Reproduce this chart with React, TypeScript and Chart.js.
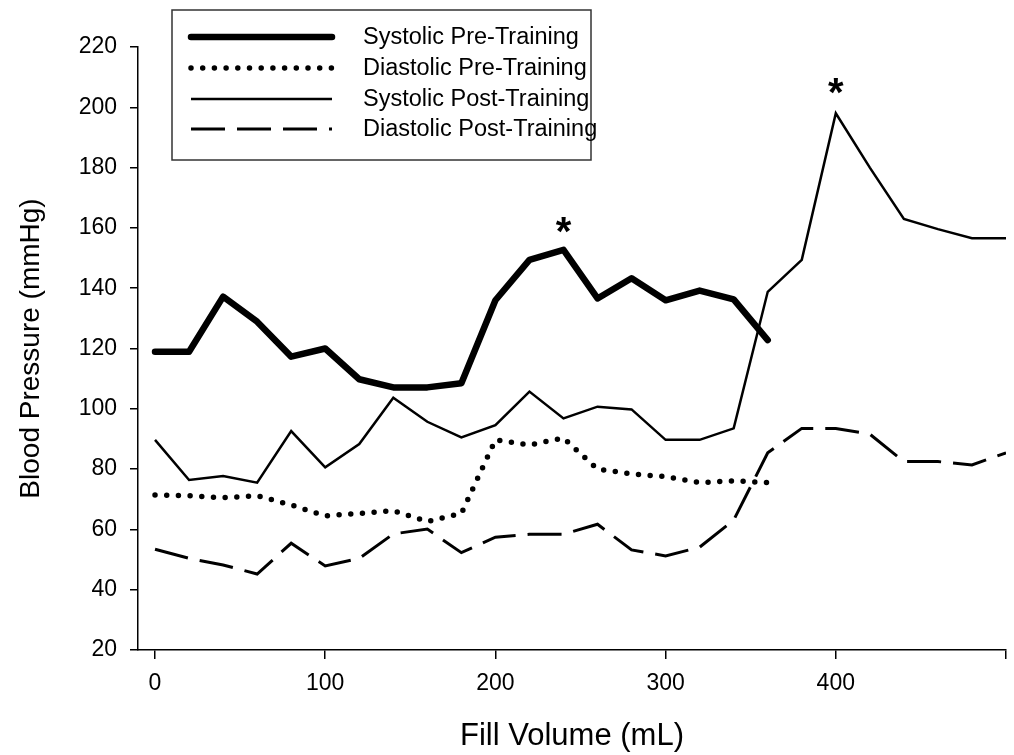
import React, { useEffect, useRef } from "react";
import { Chart, registerables } from "chart.js";

Chart.register(...registerables);

const fillVolume = [0, 20, 40, 60, 80, 100, 120, 140, 160, 180, 200, 220, 240, 260, 280, 300, 320, 340, 360, 380, 400, 420, 440, 460, 480, 500];
const systolicPre = [118.9, 118.9, 137.2, 128.9, 117.3, 120, 109.8, 107.1, 107.1, 108.5, 136, 149.4, 152.7, 136.6, 143.3, 136, 139.2, 136.3, 122.8];
const diastolicPre = [71.4, 71.2, 70.5, 71.2, 68.1, 64.5, 65.3, 66.2, 62.6, 65.3, 89.7, 88, 90.3, 80, 78.4, 77.5, 75.5, 76.1, 75.5];
const systolicPost = [89.7, 76.4, 77.7, 75.5, 92.6, 80.6, 88.3, 103.7, 95.7, 90.5, 94.6, 105.7, 96.8, 100.7, 99.8, 89.7, 89.7, 93.5, 138.8, 149.4, 198, 180, 163, 159.6, 156.6, 156.6];
const diastolicPost = [53.4, 50.4, 48.2, 45.2, 55.4, 47.9, 50.4, 58.5, 60.1, 52.3, 57.4, 58.4, 58.4, 61.7, 53.2, 51.2, 54.1, 63.1, 85.4, 93.5, 93.5, 91.6, 82.5, 82.5, 81.4, 85.4];

const seriesLabels = ["Systolic Pre-Training", "Diastolic Pre-Training", "Systolic Post-Training", "Diastolic Post-Training"];

const xTickValues = [0, 100, 200, 300, 400, 500];
const xTickLabels = ["0", "100", "200", "300", "400", ""];
const yTickValues = [20, 40, 60, 80, 100, 120, 140, 160, 180, 200, 220];

const asteriskX = [240, 400];
const asteriskY = [158, 204];

const FONT = "'Liberation Sans', Arial, sans-serif";

function toPoints(values: number[]) {
  return values.map((v, i) => ({ x: fillVolume[i], y: v }));
}

const overlayPlugin = {
  id: "overlay",
  afterDraw(chart: any) {
    const ctx = chart.ctx as CanvasRenderingContext2D;
    const xs = chart.scales.x;
    const ys = chart.scales.y;
    ctx.save();
    // asterisks
    ctx.fillStyle = "#000";
    ctx.font = `bold 40px ${FONT}`;
    ctx.textAlign = "center";
    ctx.textBaseline = "middle";
    asteriskX.forEach((v, i) => {
      ctx.fillText("*", xs.getPixelForValue(v), ys.getPixelForValue(asteriskY[i]));
    });
    // legend box
    const bx = 172, by = 10, bw = 419, bh = 150;
    ctx.fillStyle = "#fff";
    ctx.fillRect(bx, by, bw, bh);
    ctx.strokeStyle = "#333";
    ctx.lineWidth = 1.5;
    ctx.setLineDash([]);
    ctx.strokeRect(bx, by, bw, bh);
    const rows = [37, 68, 99, 129];
    chart.data.datasets.forEach((ds: any, i: number) => {
      const y = rows[i];
      ctx.save();
      ctx.strokeStyle = "#000";
      ctx.lineWidth = ds.borderWidth;
      ctx.setLineDash(ds.borderDash || []);
      ctx.lineCap = ds.borderCapStyle || "butt";
      ctx.beginPath();
      ctx.moveTo(191, y);
      ctx.lineTo(332, y);
      ctx.stroke();
      ctx.restore();
      ctx.fillStyle = "#000";
      ctx.font = `23.5px ${FONT}`;
      ctx.textAlign = "left";
      ctx.textBaseline = "middle";
      ctx.fillText(ds.label, 363, y + 1);
    });
    ctx.restore();
  },
};

export default function App() {
  const canvasRef = useRef<HTMLCanvasElement | null>(null);

  useEffect(() => {
    if (!canvasRef.current) return;
    const chart = new Chart(canvasRef.current, {
      type: "line",
      data: {
        datasets: [
          {
            label: seriesLabels[0],
            data: toPoints(systolicPre),
            borderColor: "#000",
            borderWidth: 6.5,
            borderJoinStyle: "round",
            borderCapStyle: "round",
            pointRadius: 0,
            tension: 0,
          },
          {
            label: seriesLabels[1],
            data: toPoints(diastolicPre),
            borderColor: "#000",
            borderWidth: 5.5,
            borderDash: [0, 11.7],
            borderCapStyle: "round",
            pointRadius: 0,
            tension: 0,
          },
          {
            label: seriesLabels[2],
            data: toPoints(systolicPost),
            borderColor: "#000",
            borderWidth: 2.5,
            pointRadius: 0,
            tension: 0,
          },
          {
            label: seriesLabels[3],
            data: toPoints(diastolicPost),
            borderColor: "#000",
            borderWidth: 3,
            borderDash: [34, 12],
            pointRadius: 0,
            tension: 0,
          },
        ],
      } as any,
      options: {
        animation: false,
        responsive: false,
        layout: { padding: { left: 0, right: 8, top: 47, bottom: 0 } },
        plugins: { legend: { display: false }, tooltip: { enabled: false } },
        scales: {
          x: {
            type: "linear",
            min: -10,
            max: 500,
            afterBuildTicks: (scale: any) => {
              scale.ticks = xTickValues.map((v) => ({ value: v }));
            },
            afterFit: (scale: any) => {
              scale.height = 105;
              scale.paddingLeft = 0;
              scale.paddingRight = 0;
            },
            ticks: {
              color: "#000",
              font: { family: FONT, size: 23 },
              padding: 11,
              maxRotation: 0,
              autoSkip: false,
              callback: (value: any) => {
                const idx = xTickValues.indexOf(Number(value));
                return idx >= 0 ? xTickLabels[idx] : "";
              },
            },
            grid: { drawOnChartArea: false, drawTicks: true, tickLength: 9, color: "#000", lineWidth: 1.5 },
            border: { display: true, color: "#000", width: 1.5 },
            title: {
              display: true,
              text: "Fill Volume (mL)",
              color: "#000",
              font: { family: FONT, size: 31, weight: "normal" },
              padding: { top: 0, bottom: 0 },
            },
          },
          y: {
            type: "linear",
            min: 20,
            max: 220,
            afterBuildTicks: (scale: any) => {
              scale.ticks = yTickValues.map((v) => ({ value: v }));
            },
            afterFit: (scale: any) => {
              scale.width = 138;
              scale.paddingTop = 0;
              scale.paddingBottom = 0;
            },
            ticks: {
              color: "#000",
              font: { family: FONT, size: 23 },
              padding: 13,
              autoSkip: false,
            },
            grid: { drawOnChartArea: false, drawTicks: true, tickLength: 8, color: "#000", lineWidth: 1.5 },
            border: { display: true, color: "#000", width: 1.5 },
            title: {
              display: true,
              text: "Blood Pressure (mmHg)",
              color: "#000",
              font: { family: FONT, size: 28, weight: "normal" },
              padding: { top: 14, bottom: 0 },
            },
          },
        },
      } as any,
      plugins: [overlayPlugin],
    });
    return () => chart.destroy();
  }, []);

  return (
    <div style={{ position: "fixed", left: 0, top: 0, width: 1014, height: 755, background: "#fff" }}>
      <canvas ref={canvasRef} width={1014} height={755} style={{ width: 1014, height: 755, display: "block" }} />
    </div>
  );
}
